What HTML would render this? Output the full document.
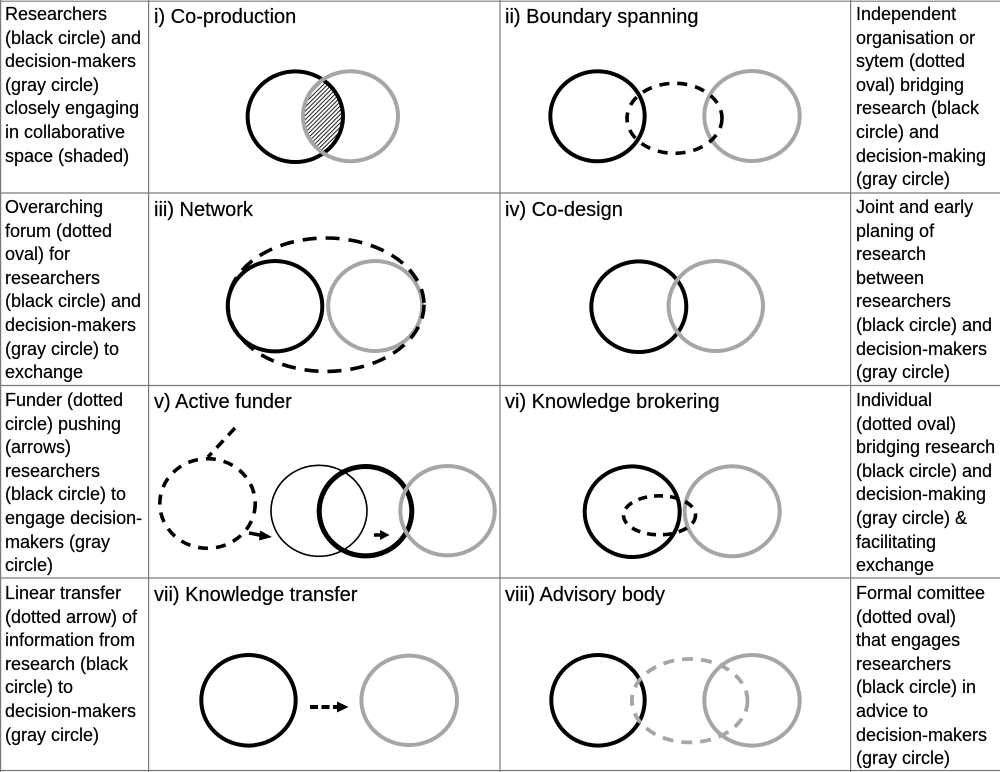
<!DOCTYPE html>
<html>
<head>
<meta charset="utf-8">
<style>
html,body{margin:0;padding:0;background:#fff;}
body{width:1000px;height:772px;position:relative;overflow:hidden;font-family:"Liberation Sans",sans-serif;color:#000;}
.t{position:absolute;font-size:18px;line-height:23.6px;white-space:nowrap;-webkit-text-stroke:0.2px #000;}
.h{position:absolute;font-size:20px;line-height:24px;white-space:nowrap;-webkit-text-stroke:0.2px #000;}
svg{position:absolute;left:0;top:0;}
</style>
</head>
<body>
<svg width="1000" height="772" viewBox="0 0 1000 772">
  <defs>
    <pattern id="hatch" width="3" height="3" patternUnits="userSpaceOnUse" patternTransform="rotate(45)">
      <rect width="3" height="3" fill="#fff"/>
      <line x1="0" y1="0" x2="0" y2="3" stroke="#111" stroke-width="1.9"/>
    </pattern>
    <clipPath id="cpGray1"><ellipse cx="350.5" cy="116.2" rx="47.5" ry="45"/></clipPath>
  </defs>

  <!-- grid -->
  <g stroke="#7a7a7a" stroke-width="1.2" fill="none">
    <line x1="0.6" y1="0" x2="0.6" y2="772"/>
    <line x1="148.6" y1="0" x2="148.6" y2="772"/>
    <line x1="500" y1="0" x2="500" y2="772"/>
    <line x1="850.6" y1="0" x2="850.6" y2="772"/>
    <line x1="0" y1="1.2" x2="1000" y2="1.2"/>
    <line x1="0" y1="193" x2="1000" y2="193"/>
    <line x1="0" y1="385.5" x2="1000" y2="385.5"/>
    <line x1="0" y1="578" x2="1000" y2="578"/>
    <line x1="0" y1="770.5" x2="1000" y2="770.5"/>
  </g>

  <!-- i) Co-production -->
  <ellipse cx="295.3" cy="116.7" rx="47.7" ry="45.3" fill="url(#hatch)" clip-path="url(#cpGray1)"/>
  <ellipse cx="295.3" cy="116.7" rx="47.7" ry="45.3" fill="none" stroke="#000" stroke-width="4"/>
  <ellipse cx="350.5" cy="116.2" rx="47.5" ry="45" fill="none" stroke="#a6a6a6" stroke-width="4"/>

  <!-- ii) Boundary spanning -->
  <ellipse cx="597.5" cy="116.3" rx="47.2" ry="45" fill="none" stroke="#000" stroke-width="4"/>
  <ellipse cx="752" cy="116" rx="47.7" ry="45" fill="none" stroke="#a6a6a6" stroke-width="4"/>
  <ellipse cx="674.5" cy="118.3" rx="47.5" ry="35" fill="none" stroke="#000" stroke-width="3.6" stroke-dasharray="10 8"/>

  <!-- iii) Network -->
  <ellipse cx="275" cy="306.2" rx="47.3" ry="45.2" fill="none" stroke="#000" stroke-width="4"/>
  <ellipse cx="375.2" cy="306" rx="47" ry="45" fill="none" stroke="#a6a6a6" stroke-width="4"/>
  <ellipse cx="326" cy="304.7" rx="98" ry="66.7" fill="none" stroke="#000" stroke-width="3.6" stroke-dasharray="14 9"/>

  <!-- iv) Co-design -->
  <ellipse cx="638.8" cy="306.7" rx="47.5" ry="45.3" fill="none" stroke="#000" stroke-width="4"/>
  <ellipse cx="715.8" cy="306" rx="47.2" ry="45" fill="none" stroke="#a6a6a6" stroke-width="4"/>

  <!-- v) Active funder -->
  <ellipse cx="207.5" cy="503.5" rx="47.7" ry="44.8" fill="none" stroke="#000" stroke-width="3.6" stroke-dasharray="10 8"/>
  <line x1="235" y1="428" x2="208" y2="457" stroke="#000" stroke-width="3.6" stroke-dasharray="10 7"/>
  <ellipse cx="319" cy="510.8" rx="48" ry="45.5" fill="none" stroke="#000" stroke-width="1.6"/>
  <ellipse cx="365.5" cy="511.2" rx="46.3" ry="44.7" fill="none" stroke="#000" stroke-width="5"/>
  <ellipse cx="447.5" cy="510.7" rx="47.2" ry="44.7" fill="none" stroke="#a6a6a6" stroke-width="4"/>
  <line x1="249" y1="533" x2="262" y2="535.5" stroke="#000" stroke-width="3.5"/>
  <path d="M260,530.5 L272,537 L259,540.5 z" fill="#000"/>
  <line x1="374" y1="535" x2="381" y2="535" stroke="#000" stroke-width="3.5"/>
  <path d="M380,530 L389.5,535 L380,540 z" fill="#000"/>

  <!-- vi) Knowledge brokering -->
  <ellipse cx="632.2" cy="511.7" rx="47.5" ry="45.3" fill="none" stroke="#000" stroke-width="4"/>
  <ellipse cx="732.2" cy="511.3" rx="47.5" ry="45" fill="none" stroke="#a6a6a6" stroke-width="4"/>
  <ellipse cx="659.5" cy="515.3" rx="36" ry="19.5" fill="none" stroke="#000" stroke-width="3.6" stroke-dasharray="9 7"/>

  <!-- vii) Knowledge transfer -->
  <ellipse cx="248.5" cy="700.3" rx="47.2" ry="45.3" fill="none" stroke="#000" stroke-width="4"/>
  <ellipse cx="409.2" cy="700.3" rx="47.8" ry="44.7" fill="none" stroke="#a6a6a6" stroke-width="4"/>
  <line x1="310" y1="707" x2="338" y2="707" stroke="#000" stroke-width="4" stroke-dasharray="8 3.5"/>
  <path d="M337,701.5 L348.5,707 L337,712.5 z" fill="#000"/>

  <!-- viii) Advisory body -->
  <ellipse cx="598" cy="700.3" rx="46.7" ry="45.3" fill="none" stroke="#000" stroke-width="4"/>
  <ellipse cx="752" cy="700.3" rx="47.7" ry="45.3" fill="none" stroke="#a6a6a6" stroke-width="4"/>
  <ellipse cx="689.7" cy="700.7" rx="57.8" ry="41.7" fill="none" stroke="#a6a6a6" stroke-width="3.8" stroke-dasharray="11 8"/>
</svg>

<!-- Column 1 -->
<div class="t" style="left:5px;top:3px;">Researchers<br>(black circle) and<br>decision-makers<br>(gray circle)<br>closely engaging<br>in collaborative<br>space (shaded)</div>
<div class="t" style="left:5px;top:196px;">Overarching<br>forum (dotted<br>oval) for<br>researchers<br>(black circle) and<br>decision-makers<br>(gray circle) to<br>exchange</div>
<div class="t" style="left:5px;top:389px;">Funder (dotted<br>circle) pushing<br>(arrows)<br>researchers<br>(black circle) to<br>engage decision-<br>makers (gray<br>circle)</div>
<div class="t" style="left:5px;top:582px;">Linear transfer<br>(dotted arrow) of<br>information from<br>research (black<br>circle) to<br>decision-makers<br>(gray circle)</div>

<!-- Titles -->
<div class="h" style="left:154px;top:5px;">i) Co-production</div>
<div class="h" style="left:505px;top:5px;">ii) Boundary spanning</div>
<div class="h" style="left:154px;top:198px;">iii) Network</div>
<div class="h" style="left:505px;top:198px;">iv) Co-design</div>
<div class="h" style="left:154px;top:390px;">v) Active funder</div>
<div class="h" style="left:505px;top:390px;">vi) Knowledge brokering</div>
<div class="h" style="left:154px;top:583px;">vii) Knowledge transfer</div>
<div class="h" style="left:505px;top:583px;">viii) Advisory body</div>

<!-- Column 4 -->
<div class="t" style="left:856px;top:3px;">Independent<br>organisation or<br>sytem (dotted<br>oval) bridging<br>research (black<br>circle) and<br>decision-making<br>(gray circle)</div>
<div class="t" style="left:856px;top:196px;">Joint and early<br>planing of<br>research<br>between<br>researchers<br>(black circle) and<br>decision-makers<br>(gray circle)</div>
<div class="t" style="left:856px;top:389px;">Individual<br>(dotted oval)<br>bridging research<br>(black circle) and<br>decision-making<br>(gray circle) &amp;<br>facilitating<br>exchange</div>
<div class="t" style="left:856px;top:582px;">Formal comittee<br>(dotted oval)<br>that engages<br>researchers<br>(black circle) in<br>advice to<br>decision-makers<br>(gray circle)</div>
</body>
</html>
